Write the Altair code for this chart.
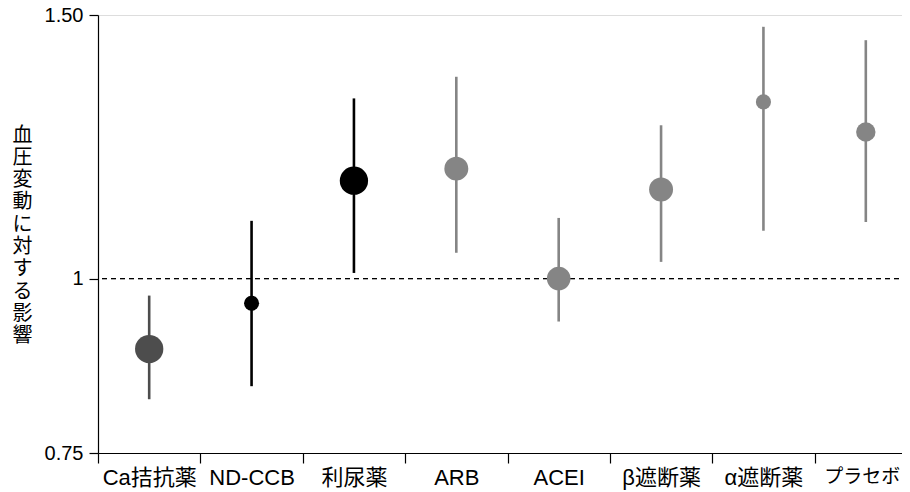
import altair as alt
import pandas as pd

drugs = ["Ca拮抗薬", "ND-CCB", "利尿薬", "ARB", "ACEI", "β遮断薬", "α遮断薬", "プラセボ"]
lower = [0.821, 0.839, 1.009, 1.042, 0.933, 1.027, 1.079, 1.094]
estimate = [0.892, 0.961, 1.167, 1.189, 1.000, 1.151, 1.317, 1.258]
upper = [0.973, 1.096, 1.324, 1.368, 1.101, 1.271, 1.474, 1.445]
group = ["Ca", "black", "black", "gray", "gray", "gray", "gray", "gray"]
weight = [10.2, 2.9, 10.2, 7.3, 7.1, 7.3, 2.9, 4.8]
y_ticks = [0.75, 1, 1.5]
title_chars = list("血圧変動に対する影響")

df = pd.DataFrame({"drug": drugs, "lo": lower, "est": estimate, "hi": upper,
                   "grp": group, "w": weight})

FONT = "'Liberation Sans', 'Noto Sans CJK JP', sans-serif"
last_label = "datum.label == '" + drugs[-1] + "'"

xaxis = alt.Axis(title=None, tickBand="extent", labelAngle=0,
                 labelFontSize={"condition": {"test": last_label, "value": 19}, "value": 22},
                 labelOffset={"condition": {"test": last_label, "value": -4}, "value": 0},
                 labelPadding=4, tickSize=10, domainColor="black", tickColor="black",
                 labelColor="black", grid=False, labelFont=FONT, domainWidth=1.2, tickWidth=1.2)
xenc = alt.X("drug:N", sort=drugs,
             scale=alt.Scale(paddingInner=0, paddingOuter=0),
             axis=xaxis)

yscale = alt.Scale(type="pow", exponent=0.2, domain=[0.75, 1.5], nice=False, zero=False)
yaxis = alt.Axis(values=y_ticks,
                 labelExpr="datum.value == 1 ? '1' : format(datum.value, '.2f')",
                 tickSize=9, labelFontSize=20, labelPadding=6, domainColor="black",
                 tickColor="black", labelColor="black", grid=False, labelFont=FONT,
                 domainWidth=1.2, tickWidth=1.2,
                 title=title_chars, titleAngle=0, titleX=-76, titleY=120,
                 titleAlign="center", titleBaseline="middle", titleFontSize=20,
                 titleLineHeight=22.3, titleFontWeight="normal", titleFont=FONT,
                 titleColor="black")

color = alt.Color("grp:N", scale=alt.Scale(domain=["Ca", "black", "gray"],
                                           range=["#4d4d4d", "#000000", "#858585"]),
                  legend=None)

base = alt.Chart(df)

ref = base.mark_rule(color="black", strokeDash=[5, 4], strokeWidth=1).encode(
    y=alt.datum(1, scale=yscale, axis=yaxis)
)

bars = base.mark_rule(strokeWidth=2.6).encode(
    x=xenc,
    y=alt.Y("lo:Q", scale=yscale, axis=yaxis),
    y2="hi:Q",
    color=color,
)

points = base.mark_circle(opacity=1).encode(
    x=xenc,
    y=alt.Y("est:Q", scale=yscale, axis=yaxis),
    color=color,
    size=alt.Size("w:Q", scale=alt.Scale(domain=[0, 10.24], range=[0, 804]), legend=None),
)

chart = alt.layer(ref, bars, points).properties(
    width=819, height=438,
    autosize=alt.AutoSizeParams(type="none"),
    padding={"left": 90, "top": 7, "right": -15, "bottom": 39},
).configure_view(stroke=None).configure(font=FONT)

chart.save("out.html", embed_options={"renderer": "svg", "actions": False})
